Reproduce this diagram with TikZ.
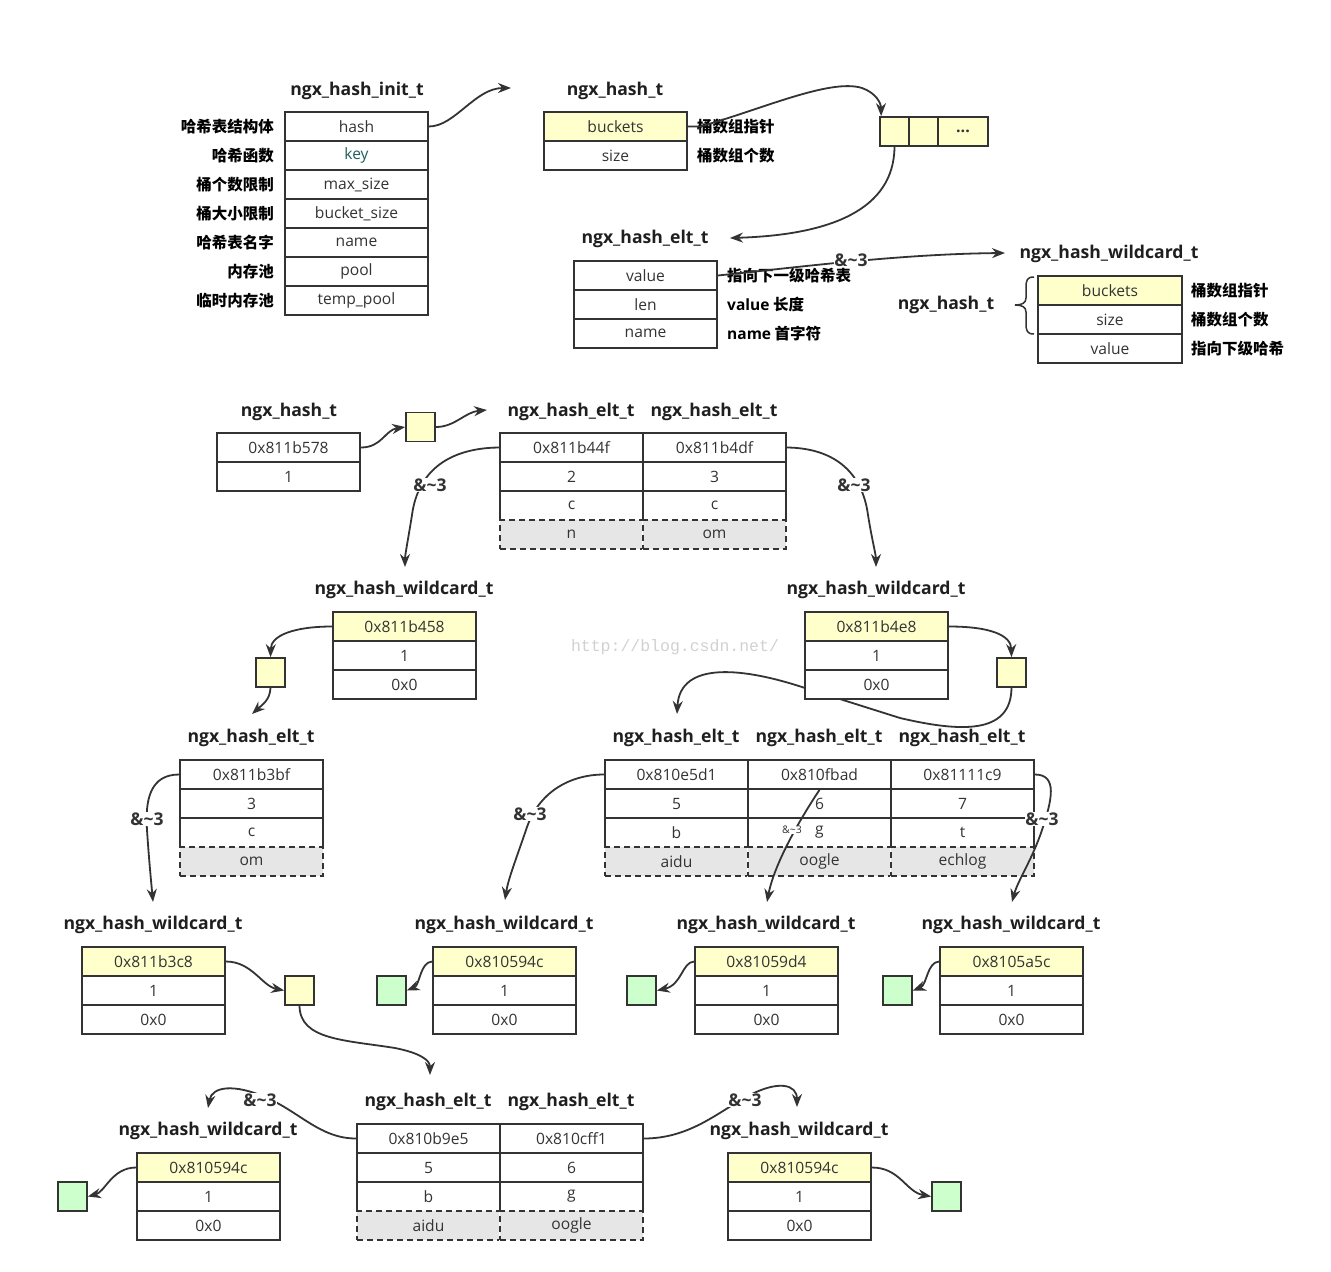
\documentclass[tikz,border=0pt]{standalone}
\usepackage{fontspec}
\setmainfont{Open Sans}
\newfontfamily\cjk{Noto Sans CJK SC}
\newfontfamily\wmfont{Liberation Mono}
\usetikzlibrary{arrows.meta}
\definecolor{lc}{HTML}{333333}
\definecolor{yel}{HTML}{FFFFCC}
\definecolor{grn}{HTML}{CCFFCC}
\definecolor{gry}{HTML}{E6E6E6}
\definecolor{keyc}{HTML}{1F5F5F}
\begin{document}
\begin{tikzpicture}[x=1pt,y=-1pt,
  cell/.style={draw=lc, line width=1.7pt, fill=white, minimum width=143pt, minimum height=29pt, inner sep=0pt, text=lc, font=\fontsize{15.6}{18}\selectfont},
  ycell/.style={cell, fill=yel},
  dcell/.style={cell, fill=gry, dash pattern=on 6pt off 4pt, preaction={draw=white, solid, line width=2.2pt}},
  sqbox/.style={draw=lc, line width=1.7pt, fill=yel, minimum width=29pt, minimum height=29pt, inner sep=0pt},
  gbox/.style={sqbox, fill=grn},
  tit/.style={font=\fontsize{17.6}{20}\selectfont\bfseries, text=black!88, inner sep=0pt},
  lab/.style={font=\cjk\fontsize{15.5}{18}\selectfont\bfseries, text=black, inner sep=0pt},
  amp/.style={font=\fontsize{17.5}{20}\selectfont\bfseries, text=lc, fill=white, inner sep=0.5pt},
  arr/.style={draw=lc, line width=1.8pt, -{Stealth[length=13pt, width=10pt]}}
]
\useasboundingbox (0,0) rectangle (1331,1272);

% watermark
\node[font=\wmfont\fontsize{16.5}{18}\selectfont, text=black!18, inner sep=0] (wm) at (675,647) {http://blog.csdn.net/};

% ================= top section =================
\node[tit] (tinit) at (357,91) {ngx\_hash\_init\_t};
\node[cell] (i1) at (356.5,126.5) {hash};
\node[cell, text=keyc] (i2) at (356.5,155.5) {key};
\node[cell] (i3) at (356.5,184.5) {max\_size};
\node[cell] (i4) at (356.5,213.5) {bucket\_size};
\node[cell] (i5) at (356.5,242.5) {name};
\node[cell] (i6) at (356.5,271.5) {pool};
\node[cell] (i7) at (356.5,300.5) {temp\_pool};
\node[lab, anchor=east] (l1) at (274,126.5) {哈希表结构体};
\node[lab, anchor=east] (l2) at (274,155.5) {哈希函数};
\node[lab, anchor=east] (l3) at (274,184.5) {桶个数限制};
\node[lab, anchor=east] (l4) at (274,213.5) {桶大小限制};
\node[lab, anchor=east] (l5) at (274,242.5) {哈希表名字};
\node[lab, anchor=east] (l6) at (274,271.5) {内存池};
\node[lab, anchor=east] (l7) at (274,300.5) {临时内存池};

\node[tit] (thash) at (615,91) {ngx\_hash\_t};
\node[ycell] (h1) at (615.5,126.5) {buckets};
\node[cell] (h2) at (615.5,155.5) {size};
\node[lab, anchor=west] (lh1) at (697,126.5) {桶数组指针};
\node[lab, anchor=west] (lh2) at (697,155.5) {桶数组个数};

\node[sqbox] (ba1) at (894.5,131.5) {};
\node[sqbox] (ba2) at (923.5,131.5) {};
\node[sqbox, minimum width=50pt, font=\fontsize{16}{16}\selectfont\bfseries, text=lc] (ba3) at (963,131.5) {...};

\node[tit] (telt) at (645,239) {ngx\_hash\_elt\_t};
\node[cell] (t1) at (645.5,275.5) {value};
\node[cell] (t2) at (645.5,304.5) {len};
\node[cell] (t3) at (645.5,333.5) {name};
\node[lab, anchor=west] (lt1) at (727,275.5) {指向下一级哈希表};
\node[lab, anchor=west] (lt2) at (727,304.5) {{\fontspec{Open Sans}\bfseries value} 长度};
\node[lab, anchor=west] (lt3) at (727,333.5) {{\fontspec{Open Sans}\bfseries name} 首字符};

\node[tit] (twild) at (1109,254) {ngx\_hash\_wildcard\_t};
\node[tit] (thash2) at (946,305) {ngx\_hash\_t};
\node[ycell, minimum width=144pt] (r1) at (1110,290.5) {buckets};
\node[cell, minimum width=144pt] (r2) at (1110,319.5) {size};
\node[cell, minimum width=144pt] (r3) at (1110,348.5) {value};
\node[lab, anchor=west] (lr1) at (1191,290.5) {桶数组指针};
\node[lab, anchor=west] (lr2) at (1191,319.5) {桶数组个数};
\node[lab, anchor=west] (lr3) at (1191,348.5) {指向下级哈希};
\draw[lc, line width=1.5pt] (1034,277) .. controls (1027,277) and (1026,280) .. (1026,288) -- (1026,298)
  .. controls (1026,303) and (1022,305) .. (1015,305) .. controls (1022,305) and (1026,307) .. (1026,312)
  -- (1026,323) .. controls (1026,331) and (1027,334) .. (1034,334);

\coordinate (c1) at (511,88);
\coordinate (c3) at (730,238);
\coordinate (c4) at (1005,253);
\draw[arr] (i1.east) .. controls (455,126.5) and (475,88) .. (c1);
\draw[arr] (h1.east) -- (700,126.5) .. controls (760,110) and (830,78) .. (862,88) .. controls (876,93) and (881,103) .. ([xshift=2pt]ba1.north west);
\draw[arr] (ba1.south) .. controls (894,210) and (830,235) .. (c3);
\draw[arr] (t1.east) .. controls (800,267) and (900,254) .. (c4);
\node[amp] (a0) at (851,260) {\&\textasciitilde3};

% ================= middle section =================
\node[tit] (thash3) at (289,412) {ngx\_hash\_t};
\node[cell] (hs1) at (288.5,447.5) {0x811b578};
\node[cell] (hs2) at (288.5,476.5) {1};
\node[sqbox] (sq1) at (420.5,427) {};

\node[tit] (te1) at (571,412) {ngx\_hash\_elt\_t};
\node[tit] (te2) at (714,412) {ngx\_hash\_elt\_t};
\node[cell] (e11) at (571.5,447.5) {0x811b44f};
\node[cell] (e12) at (571.5,476.5) {2};
\node[cell] (e13) at (571.5,505.5) {c};
\node[cell] (e21) at (714.5,447.5) {0x811b4df};
\node[cell] (e22) at (714.5,476.5) {3};
\node[cell] (e23) at (714.5,505.5) {c};
\node[dcell] (e14) at (571.5,534.5) {n};
\node[dcell] (e24) at (714.5,534.5) {om};

\coordinate (c5) at (487,410);
\coordinate (c6) at (405,567);
\coordinate (c7) at (876,567);
\draw[arr] (hs1.east) .. controls (382,447.5) and (385,430) .. (sq1.west);
\draw[arr] (sq1.east) .. controls (455,427) and (465,412) .. (c5);
\draw[arr] (e11.west) .. controls (450,448) and (418,470) .. (412,515) .. controls (408,540) and (405,555) .. (c6);
\draw[arr] (e21.east) .. controls (832,448) and (862,470) .. (868,515) .. controls (872,540) and (876,555) .. (c7);
\node[amp] (a1) at (430,485) {\&\textasciitilde3};
\node[amp] (a2) at (854,485) {\&\textasciitilde3};

% left wildcard
\node[tit] (tw1) at (404,590) {ngx\_hash\_wildcard\_t};
\node[ycell] (wL1) at (404.5,626.5) {0x811b458};
\node[cell] (wL2) at (404.5,655.5) {1};
\node[cell] (wL3) at (404.5,684.5) {0x0};
\node[sqbox] (sqL) at (270.5,672.5) {};
\coordinate (c8) at (252,714);
\draw[arr] (wL1.west) .. controls (295,626.5) and (271,635) .. (sqL.north);
\draw[arr] (sqL.south) .. controls (270,700) and (262,705) .. (c8);

% right wildcard
\node[sqbox] (sqR) at (1011.5,672.5) {};
\coordinate (c9) at (677,714);
\draw[arr] (sqR.south) .. controls (1011,735) and (960,732) .. (900,718) -- (805,688) .. controls (745,668) and (680,660) .. (c9);
\node[tit] (tw2) at (876,590) {ngx\_hash\_wildcard\_t};
\node[ycell] (wR1) at (876.5,626.5) {0x811b4e8};
\node[cell] (wR2) at (876.5,655.5) {1};
\node[cell] (wR3) at (876.5,684.5) {0x0};
\draw[arr] (wR1.east) .. controls (990,626.5) and (1011,635) .. (sqR.north);

% single elt
\node[tit] (ts) at (251,738) {ngx\_hash\_elt\_t};
\node[cell] (s1) at (251.5,774.5) {0x811b3bf};
\node[cell] (s2) at (251.5,803.5) {3};
\node[cell] (s3) at (251.5,832.5) {c};
\node[dcell] (s4) at (251.5,861.5) {om};

% triple elt
\node[tit] (tta) at (676,738) {ngx\_hash\_elt\_t};
\node[tit] (ttb) at (819,738) {ngx\_hash\_elt\_t};
\node[tit] (ttc) at (962,738) {ngx\_hash\_elt\_t};
\node[cell] (ta1) at (676.5,774.5) {0x810e5d1};
\node[cell] (ta2) at (676.5,803.5) {5};
\node[cell] (ta3) at (676.5,832.5) {b};
\node[cell] (tb1) at (819.5,774.5) {0x810fbad};
\node[cell] (tb2) at (819.5,803.5) {6};
\node[cell] (tb3) at (819.5,832.5) {g};
\node[cell] (tc1) at (962.5,774.5) {0x81111c9};
\node[cell] (tc2) at (962.5,803.5) {7};
\node[cell] (tc3) at (962.5,832.5) {t};
\node[dcell] (ta4) at (676.5,861.5) {aidu};
\node[dcell] (tb4) at (819.5,861.5) {oogle};
\node[dcell] (tc4) at (962.5,861.5) {echlog};

\coordinate (c10) at (505,900);
\coordinate (c11) at (767,902);
\coordinate (c12) at (1012,902);
\coordinate (c13) at (153,902);
\draw[arr] (ta1.west) .. controls (570,774.5) and (538,792) .. (526,830) .. controls (515,862) and (508,880) .. (c10);
\draw[arr] (tb1.south) .. controls (806,810) and (775,860) .. (c11);
\draw[arr] (tc1.east) .. controls (1058,774.5) and (1052,800) .. (1042,830) .. controls (1032,860) and (1018,880) .. (c12);
\draw[arr] (s1.west) .. controls (150,774.5) and (145,800) .. (147,830) .. controls (149,860) and (151,880) .. (c13);
\node[amp] (a3) at (530,814) {\&\textasciitilde3};
\node[font=\fontsize{10.5}{12}\selectfont, text=lc, fill=white, inner sep=0.5pt] (a4) at (792,830) {\&\textasciitilde3};
\node[amp] (a5) at (1042,819) {\&\textasciitilde3};
\node[amp] (a6) at (147,819) {\&\textasciitilde3};

% wildcard row
\node[tit] (tW1) at (153,925) {ngx\_hash\_wildcard\_t};
\node[ycell] (W11) at (153.5,961.5) {0x811b3c8};
\node[cell] (W12) at (153.5,990.5) {1};
\node[cell] (W13) at (153.5,1019.5) {0x0};
\node[sqbox] (sqW1) at (299.5,990.5) {};

\node[tit] (tW2) at (504,925) {ngx\_hash\_wildcard\_t};
\node[ycell] (W21) at (504.5,961.5) {0x810594c};
\node[cell] (W22) at (504.5,990.5) {1};
\node[cell] (W23) at (504.5,1019.5) {0x0};
\node[gbox] (g2) at (391.5,990.5) {};

\node[tit] (tW3) at (766,925) {ngx\_hash\_wildcard\_t};
\node[ycell] (W31) at (766.5,961.5) {0x81059d4};
\node[cell] (W32) at (766.5,990.5) {1};
\node[cell] (W33) at (766.5,1019.5) {0x0};
\node[gbox] (g3) at (641.5,990.5) {};

\node[tit] (tW4) at (1011,925) {ngx\_hash\_wildcard\_t};
\node[ycell] (W41) at (1011.5,961.5) {0x8105a5c};
\node[cell] (W42) at (1011.5,990.5) {1};
\node[cell] (W43) at (1011.5,1019.5) {0x0};
\node[gbox] (g4) at (897.5,990.5) {};

\coordinate (c14) at (430,1075);
\draw[arr] (W11.east) .. controls (252,961.5) and (262,986) .. (sqW1.west);
\draw[arr] (sqW1.south) .. controls (300,1040) and (345,1040) .. (395,1048) .. controls (420,1053) and (430,1060) .. (c14);
\draw[arr] (W21.west) .. controls (420,962) and (420,985) .. (g2.east);
\draw[arr] (W31.west) .. controls (682,962) and (682,985) .. (g3.east);
\draw[arr] (W41.west) .. controls (927,962) and (927,985) .. (g4.east);

% bottom section
\node[tit] (tb1t) at (428,1102) {ngx\_hash\_elt\_t};
\node[tit] (tb2t) at (571,1102) {ngx\_hash\_elt\_t};
\node[cell] (b11) at (428.5,1138.5) {0x810b9e5};
\node[cell] (b12) at (428.5,1167.5) {5};
\node[cell] (b13) at (428.5,1196.5) {b};
\node[cell] (b21) at (571.5,1138.5) {0x810cff1};
\node[cell] (b22) at (571.5,1167.5) {6};
\node[cell] (b23) at (571.5,1196.5) {g};
\node[dcell] (b14) at (428.5,1225.5) {aidu};
\node[dcell] (b24) at (571.5,1225.5) {oogle};

\node[tit] (tBL) at (208,1131) {ngx\_hash\_wildcard\_t};
\node[ycell] (BL1) at (208.5,1167.5) {0x810594c};
\node[cell] (BL2) at (208.5,1196.5) {1};
\node[cell] (BL3) at (208.5,1225.5) {0x0};
\node[gbox] (gBL) at (72.5,1196.5) {};

\node[tit] (tBR) at (799,1131) {ngx\_hash\_wildcard\_t};
\node[ycell] (BR1) at (799.5,1167.5) {0x810594c};
\node[cell] (BR2) at (799.5,1196.5) {1};
\node[cell] (BR3) at (799.5,1225.5) {0x0};
\node[gbox] (gBR) at (946.5,1196.5) {};

\coordinate (c15) at (208,1108);
\coordinate (c16) at (797,1107);
\draw[arr] (b11.west) .. controls (320,1138.5) and (300,1112) .. (265,1097) .. controls (235,1084) and (212,1086) .. (c15);
\draw[arr] (b21.east) .. controls (690,1138.5) and (718,1112) .. (748,1096) .. controls (778,1080) and (797,1084) .. (c16);
\draw[arr] (BL1.west) .. controls (112,1167.5) and (105,1192) .. (gBL.east);
\draw[arr] (BR1.east) .. controls (900,1167.5) and (906,1192) .. (gBR.west);
\node[amp] (a7) at (260,1100) {\&\textasciitilde3};
\node[amp] (a8) at (745,1100) {\&\textasciitilde3};
\end{tikzpicture}
\end{document}
